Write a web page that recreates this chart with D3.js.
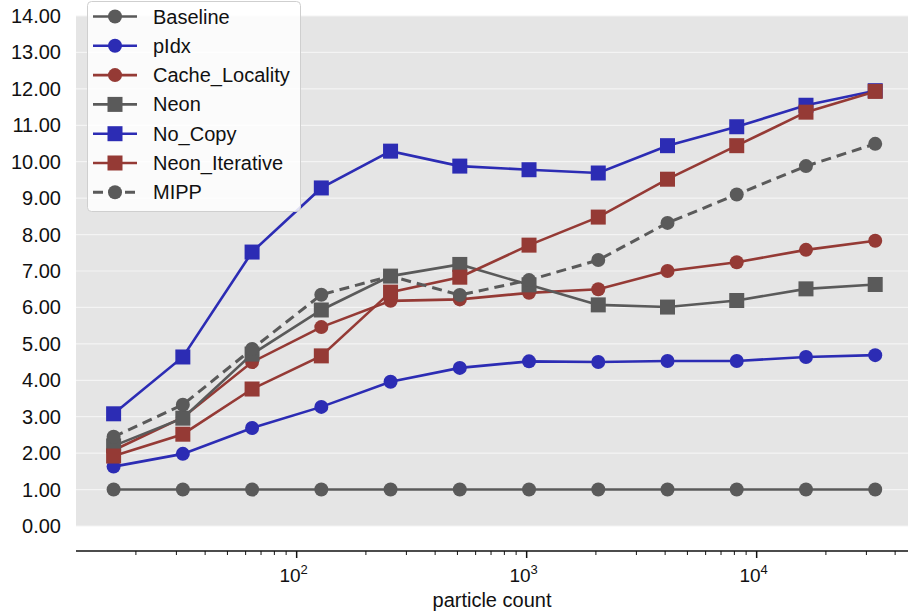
<!DOCTYPE html>
<html><head><meta charset="utf-8">
<script src="https://cdn.jsdelivr.net/npm/d3@7"></script>
<style>body{margin:0;background:#fff}svg{display:block}text{font-family:"Liberation Sans",Arial,Helvetica,sans-serif;fill:#111}</style>
</head><body><svg id="c" width="908" height="615"></svg>
<script>
const particles = [16, 32, 64, 128, 256, 512, 1024, 2048, 4096, 8192, 16384, 32768];
const baseline = [1, 1, 1, 1, 1, 1, 1, 1, 1, 1, 1, 1];
const pIdx = [1.63, 1.98, 2.69, 3.27, 3.96, 4.34, 4.52, 4.50, 4.53, 4.53, 4.64, 4.69];
const cacheLocality = [2.08, 2.98, 4.50, 5.46, 6.18, 6.22, 6.40, 6.50, 7.00, 7.24, 7.58, 7.83];
const neon = [2.2, 2.96, 4.72, 5.93, 6.86, 7.18, 6.62, 6.07, 6.01, 6.19, 6.51, 6.63];
const noCopy = [3.08, 4.64, 7.52, 9.28, 10.29, 9.88, 9.78, 9.69, 10.44, 10.96, 11.55, 11.95];
const neonIterative = [1.92, 2.52, 3.76, 4.67, 6.42, 6.83, 7.71, 8.48, 9.52, 10.44, 11.36, 11.93];
const mipp = [2.45, 3.33, 4.86, 6.35, 6.86, 6.34, 6.75, 7.30, 8.32, 9.10, 9.88, 10.49];
const yTicks = [0,1,2,3,4,5,6,7,8,9,10,11,12,13,14];
const xMajor = [100, 1000, 10000];
const seriesNames = ["Baseline","pIdx","Cache_Locality","Neon","No_Copy","Neon_Iterative","MIPP"];

const GRAY = "#5a5a5a", BLUE = "#2c2cb4", RED = "#953a35";
const series = [
  {name: seriesNames[0], values: baseline, color: GRAY, marker: "circle", dash: null},
  {name: seriesNames[1], values: pIdx, color: BLUE, marker: "circle", dash: null},
  {name: seriesNames[2], values: cacheLocality, color: RED, marker: "circle", dash: null},
  {name: seriesNames[3], values: neon, color: GRAY, marker: "square", dash: null},
  {name: seriesNames[4], values: noCopy, color: BLUE, marker: "square", dash: null},
  {name: seriesNames[5], values: neonIterative, color: RED, marker: "square", dash: null},
  {name: seriesNames[6], values: mipp, color: GRAY, marker: "circle", dash: "10,6"}
];

const svg = d3.select("#c");
const L = 76, R = 908, T = 16, B = 526;
const x = d3.scaleLog().domain([10.98, 45500]).range([L, R]);
const y = d3.scaleLinear().domain([0, 14]).range([B, T]);

svg.append("rect").attr("x", L).attr("y", T).attr("width", R - L).attr("height", B - T).attr("fill", "#e5e5e5");
svg.append("g").selectAll("line").data(yTicks).join("line")
  .attr("x1", L).attr("x2", R).attr("y1", d => y(d)).attr("y2", d => y(d))
  .attr("stroke", "#f4f4f4").attr("stroke-width", 1.2);

svg.append("g").selectAll("text").data(yTicks).join("text")
  .attr("x", 61).attr("y", d => y(d)).attr("dy", "0.35em")
  .attr("text-anchor", "end").attr("font-size", 20)
  .text(d => d3.format(".2f")(d));

const axY = 551;
const xa = svg.append("g").attr("transform", `translate(0,${axY})`);
xa.append("line").attr("x1", L).attr("x2", R).attr("stroke", "#111").attr("stroke-width", 1.5);
const minor = [];
for (let e = 1; e <= 4; e++) for (let m = 2; m <= 9; m++) {
  const v = m * Math.pow(10, e);
  if (v >= x.domain()[0] && v <= x.domain()[1]) minor.push(v);
}
xa.selectAll("line.mi").data(minor).join("line").attr("class","mi")
  .attr("x1", d => x(d)).attr("x2", d => x(d)).attr("y1", 0).attr("y2", 4)
  .attr("stroke", "#111").attr("stroke-width", 1);
xa.selectAll("line.ma").data(xMajor).join("line").attr("class","ma")
  .attr("x1", d => x(d)).attr("x2", d => x(d)).attr("y1", 0).attr("y2", 7)
  .attr("stroke", "#111").attr("stroke-width", 1.5);
const lab = xa.selectAll("text").data(xMajor).join("text")
  .attr("x", d => x(d) - 3).attr("y", 31).attr("text-anchor", "middle").attr("font-size", 19);
lab.append("tspan").text("10");
lab.append("tspan").attr("dy", -8).attr("font-size", 13).text(d => Math.round(Math.log10(d)));
svg.append("text").attr("x", (L + R) / 2).attr("y", 607).attr("text-anchor", "middle")
  .attr("font-size", 20).text("particle count");

const line = d3.line().x((d, i) => x(particles[i])).y(d => y(d));
const g = svg.append("g");
function drawMarker(sel, s, cx, cy) {
  if (s.marker === "circle") sel.append("circle").attr("cx", cx).attr("cy", cy).attr("r", 7).attr("fill", s.color);
  else sel.append("rect").attr("x", cx - 7.5).attr("y", cy - 7.5).attr("width", 15).attr("height", 15).attr("fill", s.color);
}
series.forEach(s => {
  const sg = g.append("g");
  sg.append("path").attr("d", line(s.values)).attr("fill", "none").attr("stroke", s.color)
    .attr("stroke-width", s.dash ? 3 : 2.6).attr("stroke-dasharray", s.dash);
  s.values.forEach((v, i) => drawMarker(sg, s, x(particles[i]), y(v)));
});

const lg = svg.append("g");
lg.append("rect").attr("x", 87.5).attr("y", 1.5).attr("width", 213).attr("height", 210).attr("rx", 4)
  .attr("fill", "#fff").attr("fill-opacity", 0.85).attr("stroke", "#cfcfcf").attr("stroke-width", 1);
series.forEach((s, i) => {
  const cy = 16.5 + i * 29.3;
  const row = lg.append("g");
  row.append("line").attr("x1", 93).attr("x2", 137).attr("y1", cy).attr("y2", cy)
    .attr("stroke", s.color).attr("stroke-width", s.dash ? 3 : 2.6).attr("stroke-dasharray", s.dash ? "10,6" : null);
  drawMarker(row, s, 115, cy);
  row.append("text").attr("x", 153).attr("y", cy).attr("dy", "0.35em").attr("font-size", 20).text(s.name);
});
</script></body></html>
